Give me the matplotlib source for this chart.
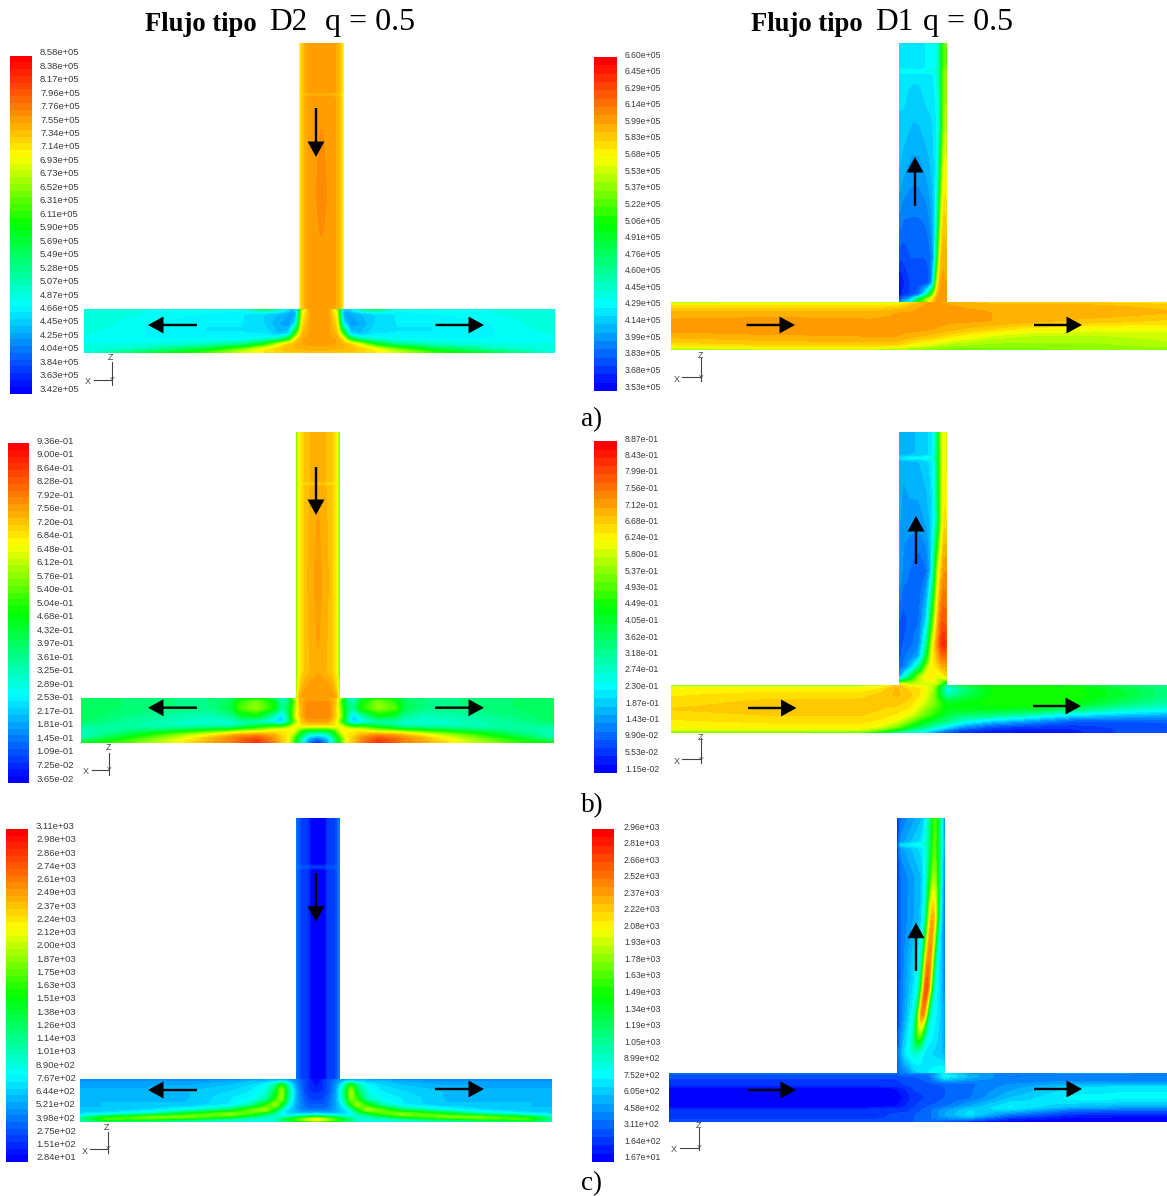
import colorsys
import numpy as np
import matplotlib
matplotlib.use("Agg")
import matplotlib.pyplot as plt

# ---------- colour-scale tick labels ----------
ticks_a_d2 = ["8.58e+05","8.38e+05","8.17e+05","7.96e+05","7.76e+05","7.55e+05","7.34e+05","7.14e+05","6.93e+05","6.73e+05","6.52e+05","6.31e+05","6.11e+05","5.90e+05","5.69e+05","5.49e+05","5.28e+05","5.07e+05","4.87e+05","4.66e+05","4.45e+05","4.25e+05","4.04e+05","3.84e+05","3.63e+05","3.42e+05"]
ticks_a_d1 = ["6.60e+05","6.45e+05","6.29e+05","6.14e+05","5.99e+05","5.83e+05","5.68e+05","5.53e+05","5.37e+05","5.22e+05","5.06e+05","4.91e+05","4.76e+05","4.60e+05","4.45e+05","4.29e+05","4.14e+05","3.99e+05","3.83e+05","3.68e+05","3.53e+05"]
ticks_b_d2 = ["9.36e-01","9.00e-01","8.64e-01","8.28e-01","7.92e-01","7.56e-01","7.20e-01","6.84e-01","6.48e-01","6.12e-01","5.76e-01","5.40e-01","5.04e-01","4.68e-01","4.32e-01","3.97e-01","3.61e-01","3.25e-01","2.89e-01","2.53e-01","2.17e-01","1.81e-01","1.45e-01","1.09e-01","7.25e-02","3.65e-02"]
ticks_b_d1 = ["8.87e-01","8.43e-01","7.99e-01","7.56e-01","7.12e-01","6.68e-01","6.24e-01","5.80e-01","5.37e-01","4.93e-01","4.49e-01","4.05e-01","3.62e-01","3.18e-01","2.74e-01","2.30e-01","1.87e-01","1.43e-01","9.90e-02","5.53e-02","1.15e-02"]
ticks_c_d2 = ["3.11e+03","2.98e+03","2.86e+03","2.74e+03","2.61e+03","2.49e+03","2.37e+03","2.24e+03","2.12e+03","2.00e+03","1.87e+03","1.75e+03","1.63e+03","1.51e+03","1.38e+03","1.26e+03","1.14e+03","1.01e+03","8.90e+02","7.67e+02","6.44e+02","5.21e+02","3.98e+02","2.75e+02","1.51e+02","2.84e+01"]
ticks_c_d1 = ["2.96e+03","2.81e+03","2.66e+03","2.52e+03","2.37e+03","2.22e+03","2.08e+03","1.93e+03","1.78e+03","1.63e+03","1.49e+03","1.34e+03","1.19e+03","1.05e+03","8.99e+02","7.52e+02","6.05e+02","4.58e+02","3.11e+02","1.64e+02","1.67e+01"]

# ---------- fields, on the scale 0 (blue) .. 25 (red) ----------
# a) D2
a_d2_vx = [0,1.5,4,8,14,22.5,31,37,41,43.5,45]
a_d2_vy = [0,50,51.5,53,150,230,266]
a_d2_v = [
 [16,18,19.3,20,20.2,20.4,20.2,20,19.3,18,16],
 [16,18,19.3,20,20.2,20.4,20.2,20,19.3,18,16],
 [16,18,18.5,18.5,18.5,18.5,18.5,18.5,18.5,18,16],
 [16,18,19.3,20,20.2,20.4,20.2,20,19.3,18,16],
 [16,18,19.3,20,20.3,20.8,20.3,20,19.3,18,16],
 [16,18,19.3,20,20.2,20.3,20.2,20,19.3,18,16],
 [16,18,19.3,20,20.1,20.2,20.1,20,19.3,18,16]]
a_d2_hx = [0,60,120,160,180,195,205,212,218,226,235.5]
a_d2_hy = [0,4,15,25,30,35,40,44]
a_d2_h = [
 [7.5,7,7,7.5,11,9,5.5,5.5,16,20,20.2],
 [7.5,7,6.5,6,5.5,5,4.5,4,17,20.1,20.2],
 [7.5,6.5,6,6,5.5,4.5,4,6,18.5,20.1,20.2],
 [7,6.5,6,6,6,5,5.5,14,19.5,20.1,20.2],
 [7,6.5,6.5,6.5,7,8,12,18.5,20,20.1,20.1],
 [7,7,7.5,9,12,17,19.2,19.6,20,20.1,20.1],
 [7,8,11,15,18,19,19.5,19.5,19.5,19.8,19.8],
 [7,11,14,17,18,18.5,18.8,18.8,18.8,18.8,18.8]]
# a) D1
a_d1_vx = [0,4,12,20,28,32,35,37,39,41,43,45,47.5]
a_d1_vy = [0,27,28.5,30,80,130,180,215,240,252,256,259]
a_d1_v = [
 [6.2,6.2,6,6,6.3,6.3,6.5,7,7.5,9,13,15,14],
 [6.2,6.2,6,6,6.3,6.3,6.5,7,7.5,9,13,15,14],
 [6,7.5,8,8,8,8,8,8,8,9.5,13,16,15],
 [6,6,5.8,5.8,6,6,6.3,6.8,7.5,9,13,15.5,15],
 [5.5,5.5,5,5,5.5,5.5,5.8,6,6.5,8,13,16,16],
 [5,4.5,4,4,4.5,5,5.5,6,7,11,16,18,17],
 [3.5,3,3,3,3.2,4,5,6,10,15,18.5,19.5,18.5],
 [2,2,2.5,2.5,2.5,3,4.5,8,14,18.5,20,20,19.5],
 [.3,1,2,2,2,3,7,15,18.5,20,20.3,20,20],
 [.3,1.5,2,3,8,13,16.5,19,20,20.3,20.3,20,20],
 [1.5,3,5,11,16,18,19,20,20.3,20.3,20.3,20.3,20],
 [3,5,6.5,13,16,18,19,20,20.3,20.3,20.3,20.3,20]]
a_d1_hx = [0,100,200,225,240,260,280,320,360,420,495.3]
a_d1_hy = [0,3,10,20,28,35,42,46,48]
a_d1_h = [
 [15,15.5,16,16,18,20.3,19.5,19,19,18.5,18],
 [18,18,18,18,19.5,20.3,20,19.5,19.5,19.5,19],
 [19.5,19.5,19.5,20,20,20.6,20.3,20,20,20,19.5],
 [20.2,20.4,20.2,20.2,20.5,20.3,20.1,20,19.5,19,18.5],
 [20.2,20.4,20.2,20.2,20.2,20,19.5,18.5,17.5,17,17],
 [19.5,19.8,20,20,19.5,19,18,16.5,16,16,16.5],
 [18.5,19,19,19,18,17,16,15.5,15.5,15.5,16],
 [17,17.5,17.5,17,16,15.5,15,15,15,15.2,15.5],
 [15,15,15,15,15,14.5,14.5,14.5,14.5,15,15]]
# b) D2
b_d2_vx = [0,1.5,4,8,14,22,30,36,40,42.5,44]
b_d2_vy = [0,50,51.5,53,150,240,258,266]
b_d2_v = [
 [14,16,18,19,19.5,20,19.5,19,18,16,14],
 [14,16,18,19,19.5,20,19.5,19,18,16,14],
 [14,16,17,17,17,17,17,17,17,16,14],
 [14,16,18,19,19.5,20,19.5,19,18,16,14],
 [14,16,18,19,19.8,20.2,19.8,19,18,16,14],
 [14,16,18,19,19.5,20,19.5,19,18,16,14],
 [14,17,19,20,20.5,20.5,20.5,20,19,17,14],
 [13,19,20,20.5,20.5,20.5,20.5,20.5,20,19,13]]
b_d2_hx = [0,40,90,130,150,158,175,192,200,206,212,218,226,236]
b_d2_hy = [0,3,10,18,24,28,32,36,40,44.7]
b_d2_h = [
 [10.5,10,9.5,9.5,10,11,12,10,7,8,15,19,20,20],
 [10.5,10,9.5,9.5,10.5,13,15,12,8,9,13,19.5,20.5,20.5],
 [10.5,10,9.5,9.5,11,14,15.5,13,9,10,14,19,21,20.5],
 [10.5,9.5,8.5,8,9,11,12,8,5,9,15,19,21,21],
 [10,9,8,7.5,7.5,8,8,6,5,8,13,18,20,20],
 [9,8.5,8,8,8,9,11,13,12,14,17,18,18,18],
 [8,9,10,12,13,14,15,17,18,18,18,14,12,12],
 [8,10,14,17,19,19.5,20,19.5,18,18,16,12,8,7],
 [8,12,16,19.5,21,21.5,22.5,20.5,19,18,14,10,5,3.5],
 [12,14,17,20,21,22,23.5,21,19,18,14,9,4,.5]]
# b) D1
b_d1_vx = [0,4,12,20,28,33,36,39,42,45,47.5]
b_d1_vy = [0,24,26,28,90,140,190,212,225,235,245,253]
b_d1_v = [
 [5,4.5,5,5,5.5,6,7,11,16,18,16],
 [5,4.5,5,5,5.5,6,7,11,16,18,16],
 [6,7,7.5,7.5,7.5,8,9,12,16,18,16],
 [5,4.5,5,5,5.5,6,7,11,16,18,16],
 [4.5,4,4,4,4.5,5.5,7,10,16,19,18],
 [4.5,3.5,3,2.5,3,6,12,17,19,21,20.5],
 [2.5,2,3,3,6,13,17,20,22,23,21],
 [2,2.5,3,3.5,9,17,19,21,23,24.5,22],
 [2,3,3.5,4.5,12,18,18.5,20,21,22,21],
 [3,3,5,9,16,18,18,18.5,19.5,20,20],
 [4,6,11,16,18,18,17.5,16,17,18,18.5],
 [19,18,17,16.5,16.5,16.5,16.5,16,14,10,9]]
b_d1_hx = [0,100,190,208,225,238,250,262,275,290,320,360,400,450,495.3]
b_d1_hy = [0,3,10,18,24,30,36,42,46,48]
b_d1_h = [
 [15,15,15.5,16,19,17,17,16,9,11,12.5,12.5,11,10,9],
 [17.5,17.5,17.5,18,19.5,18.5,18,16,6.5,9,12.5,13,13,11,9.5],
 [18,18.5,18.5,19,19.5,19,18,15,8,10,12.5,13,13,11.5,9.5],
 [18.5,19,19,19,19,18.5,17,15,12,12,13,13,12.5,10,8.5],
 [18.8,19,19,18.8,18.5,18,16,14,12,12,12,11.5,10,8,7],
 [18.5,18.8,18.8,18.5,18,17,15,13,11,10,9.5,8,6,5,4.5],
 [18,18.3,18.3,18,17,15,12.5,11,9.5,7.5,5.5,4,2.5,2.5,2.5],
 [17.5,17.8,17.8,17,15,12,10,8,6,4,2,1.5,1.5,2,2.5],
 [16.5,16.5,16,14,11,8,7,5,3,1.5,1,.5,1,2,2.5],
 [14,14,13,11,8,6.5,6,4,2.5,1.5,.5,.5,1,2,2]]
# c) D2
c_d2_vx = [0,2,6,13,14,29.6,30.6,37.6,41.6,43.6]
c_d2_vy = [0,47.5,49,50.5,261]
c_d2_v = [
 [3.5,2.5,1.6,1.6,.1,.1,1.6,1.6,2.5,3.5],
 [3.5,2.5,1.6,1.6,.1,.1,1.6,1.6,2.5,3.5],
 [3.5,3,3,3,3,3,3,3,3,3.5],
 [3.5,2.5,1.6,1.6,.1,.1,1.6,1.6,2.5,3.5],
 [3.5,2.5,1.6,1.6,.1,.1,1.6,1.6,2.5,3.5]]
c_d2_hx = [0,25,70,110,150,170,185,195,201,207,215,222,228,235.6]
c_d2_hy = [0,2,6,12,20,26,31,35,38,40.5,42,43]
c_d2_h = [
 [3,3,3,3,3,3.5,4,4,4,3.5,3.5,2,1.5,.1],
 [4,4,4,4,4.5,5,5,5,5,5,3.5,2.5,1.5,.1],
 [4.5,4.5,4.5,4.5,5,5.5,6.5,9,14,8,4,2.5,1.5,.7],
 [4.5,4.5,4.5,5,5.5,6,7,11,16.5,10,4.5,2.5,1.5,1.3],
 [5,5,5,5,6,6.5,8,13,16,9,4.5,3,2,1.8],
 [5,5,5,5,6,8,13,16.5,12,7,4.5,3.2,2.5,2.5],
 [5,5,5.5,7,10,15,16.5,11,7,5.5,4.5,3.5,3.2,3.2],
 [5.5,6,8,13,16.5,14,10,8,6.5,5.5,5,5,5,5.5],
 [8,12,16.5,16,12,9,8,7,7,7.5,9,10,11,12],
 [10,16,13,10,8,7,7,8,11,13,16,18,19.5,21.5],
 [8,10,9,8,7,7,7,7.5,10,11,13,15,16,17],
 [6,6.5,6.5,6.5,6.5,6.5,6.5,6.5,7,7,7.5,8,8,9]]
# c) D1: the hot streak leans across the branch, so its centre is read per row
c_d1_vy = [0,25,27,29,60,100,140,170,197,220,235,255]
c_d1_centre = [38,37.5,37.5,37.5,37,35.5,32,29.5,25.5,22,20,20]
c_d1_voff = [None,None,-12,-7,-3.5,0,3.5,7,None,None]
c_d1_vwall = [0,3,None,None,None,None,None,None,45.5,48]
c_d1_v = [
 [.5,3,5,7.5,11,15,11,7.5,4.5,3],
 [.5,4,6,8,11,15,11,7.5,5,4],
 [.5,7,7.5,8,11,15,11,8,7.5,4],
 [.5,4,6,8,11,15,11,7.5,5,4],
 [.5,3,5,8,13,16.5,13,7.5,4.5,3],
 [.5,3,5,8,17,21,17,7.5,4.5,3],
 [.5,3,6,8,18,22,18,7.5,4.5,3],
 [.5,3,6,8,18.5,24,18.5,7.5,4.5,3],
 [.5,3,6,8,17,22.5,17,7.5,5,3.5],
 [1.5,3.5,6,7,11,15,11,7,5,3.5],
 [2,4,6,7,7.5,7.5,7,6,5,4],
 [2.5,3,3.5,4,5,5.5,5.5,6,7,6.5]]
c_d1_hx = [0,60,200,225,238,244,260,275,300,340,400,450,497.2]
c_d1_hy = [0,3,10,13,14.5,25,34,36,42,46,48.7]
c_d1_h = [
 [3,3,3,3,3.5,3.5,3.5,6,4,3.5,4,4,3.5],
 [2,2,2,2,2.5,2.5,3,7,5,3,3,3,3],
 [1.6,1.6,1.6,1.6,2,2,2.5,3,3,3.5,4,4,4],
 [1.6,1.6,1.6,1.6,2,2,2,2.5,3,4,5,5.5,5.5],
 [.1,.1,.1,.5,1.5,2,2,2.5,3,4,5.5,6,6],
 [.1,.1,.1,.1,.9,1.6,2,2.5,3,5,6.5,6.5,6.5],
 [.1,.1,.1,.5,1.5,1.8,2.5,3,4.5,6.5,5,4.5,4.5],
 [1.6,1.6,1.6,1.6,1.7,2,3,4,5.5,6,3.5,3,3],
 [1.6,1.6,1.6,2,2,2.5,3,4.5,6,3,1.2,1,1],
 [1.6,1.6,1.6,2,2,2.5,3,3.5,3.5,1,.2,.2,.2],
 [2.5,2.5,2.5,2.5,2.5,2.5,2.5,2,1,.2,.2,.2,.2]]

# ---------- drawing ----------
W, H = 1167, 1196
fig = plt.figure(figsize=(W/100, H/100), dpi=100, facecolor="white")
ax = fig.add_axes([0, 0, 1, 1])
ax.set_xlim(0, W); ax.set_ylim(H, 0); ax.axis("off")
SANS = "Liberation Sans"; SERIF = "Liberation Serif"


def band_colors(n):
    t = (np.arange(n)+.5)/n*25
    hue = np.interp(t, [.3, 6.5, 12.5, 17.5, 24.7], [240, 180, 120, 60, 0])
    return [colorsys.hsv_to_rgb(h/360, 1, 1) for h in hue]


def smooth(z, sigma=1.2):
    r = int(3*sigma)
    k = np.exp(-.5*(np.arange(-r, r+1)/sigma)**2); k /= k.sum()
    z = np.pad(z, r, mode="edge")
    z = np.apply_along_axis(lambda a: np.convolve(a, k, "same"), 0, z)
    z = np.apply_along_axis(lambda a: np.convolve(a, k, "same"), 1, z)
    return z[r:-r, r:-r]


def field(x0, y0, xs, ys, z, n):
    xs = np.asarray(xs, float); ys = np.asarray(ys, float); z = np.asarray(z, float)
    if xs.ndim == 1:
        xs = np.repeat(xs[None, :], len(ys), axis=0)
    fy = np.linspace(ys[0], ys[-1], int(round(ys[-1]-ys[0]))+1)
    fx = np.linspace(xs[0, 0], xs[0, -1], int(round(xs[0, -1]-xs[0, 0]))+1)
    zf = np.empty((len(fy), len(fx)))
    for i, y in enumerate(fy):
        xrow = [np.interp(y, ys, xs[:, j]) for j in range(xs.shape[1])]
        zrow = [np.interp(y, ys, z[:, j]) for j in range(xs.shape[1])]
        zf[i] = np.interp(fx, xrow, zrow)
    zf = np.clip(smooth(zf), .01, 24.99)
    ax.contourf(x0+fx, y0+fy, zf, levels=np.linspace(0, 25, n+1), colors=band_colors(n))


def mirrored(xs, z, width):
    xs = list(xs); z = np.asarray(z, float)
    return (np.array(xs + [width-v for v in xs[-2::-1]]),
            np.hstack([z, z[:, -2::-1]]))


def colorbar(x0, x1, y0, y1, labels, n, lx, ltop, lbot, fs):
    edges = np.linspace(y1, y0, n+1)
    ax.pcolormesh([x0, x1], edges, np.arange(n)[:, None], cmap=matplotlib.colors.ListedColormap(band_colors(n)),
                  vmin=-.5, vmax=n-.5, shading="flat")
    for lab, y in zip(labels, np.linspace(ltop, lbot, len(labels))):
        ax.text(lx, y, lab, fontsize=fs, family=SANS, color="#3a3a3a", va="center", ha="left")


def arrow(x0, y0, x1, y1):
    ax.arrow(x0, y0, x1-x0, y1-y0, width=2.4, head_width=17, head_length=15.5,
             length_includes_head=True, fc="black", ec="none", zorder=5)


def triad(xv, ytop, ybot, xl, yh, xX, yX, xZ, yZ):
    c = "#444444"
    ax.plot([xv, xv], [ytop, ybot], color=c, lw=.8)
    ax.plot([xl, xv], [yh, yh], color=c, lw=.8)
    ax.text(xX, yX, "X", fontsize=6.5, family=SANS, color=c, ha="center", va="center")
    ax.text(xZ, yZ, "Z", fontsize=6.5, family=SANS, color=c, ha="center", va="center")
    ax.text(xv, yh+1, "Y", fontsize=5, family=SANS, color=c, ha="center", va="center")


N_D2, N_D1 = 50, 40
FS_D2, FS_D1 = 6.8, 6.25

# a) D2
hx, hz = mirrored(a_d2_hx, a_d2_h, 471)
field(84, 309, hx, a_d2_hy, hz, N_D2)
field(299, 43, a_d2_vx, a_d2_vy, a_d2_v, N_D2)
colorbar(10.4, 31.5, 55.5, 393.5, ticks_a_d2, N_D2, 40, 52.7, 389.3, FS_D2)
arrow(316, 108, 316, 157); arrow(197, 325, 148, 325); arrow(435.5, 325, 484, 325)
triad(112, 362, 385, 94, 380, 88, 381, 111, 358)
# a) D1
field(671.7, 302, a_d1_hx, a_d1_hy, a_d1_h, N_D1)
field(899, 43, a_d1_vx, a_d1_vy, a_d1_v, N_D1)
colorbar(593.5, 616.5, 57, 391, ticks_a_d1, N_D1, 625, 55, 387, FS_D1)
arrow(915, 206, 915, 157); arrow(746.5, 325, 795, 325); arrow(1034, 325, 1082, 325)
triad(701, 358, 381, 682, 377, 676.5, 379, 700, 355)
# b) D2
hx, hz = mirrored(b_d2_hx, b_d2_h, 472)
field(81.5, 698, hx, b_d2_hy, hz, N_D2)
field(296, 432, b_d2_vx, b_d2_vy, b_d2_v, N_D2)
colorbar(7.5, 28.5, 443, 783, ticks_b_d2, N_D2, 36.7, 441, 779, FS_D2)
arrow(316, 467, 316, 515); arrow(197, 707.7, 148, 707.7); arrow(435, 707.7, 484, 707.7)
triad(109, 753, 775, 91.5, 769.7, 86, 771, 108, 748)
# b) D1
field(671.7, 685, b_d1_hx, b_d1_hy, b_d1_h, N_D1)
field(899, 432, b_d1_vx, b_d1_vy, b_d1_v, N_D1)
colorbar(593.5, 616.5, 441.3, 773, ticks_b_d1, N_D1, 625, 439, 769, FS_D1)
arrow(916, 564, 916, 516); arrow(748, 708, 796.5, 708); arrow(1033, 706, 1081, 706)
triad(701, 738, 762.7, 682, 759, 676.5, 761, 700, 737)
# c) D2
hx, hz = mirrored(c_d2_hx, c_d2_h, 471.2)
field(80.7, 1079, hx, c_d2_hy, hz, N_D2)
field(296, 818, c_d2_vx, c_d2_vy, c_d2_v, N_D2)
colorbar(6.3, 27.8, 829, 1162, ticks_c_d2, N_D2, 36, 826.7, 1158, FS_D2)
arrow(316, 873, 316, 921.7); arrow(197, 1090, 148, 1090); arrow(435, 1089, 484, 1089)
triad(108, 1132, 1153, 90.4, 1148.7, 85, 1151, 107, 1128)
# c) D1
field(669.8, 1073, c_d1_hx, c_d1_hy, c_d1_h, N_D1)
vx2d = np.array([[w if w is not None else c+o for w, o in zip(c_d1_vwall, c_d1_voff)] for c in c_d1_centre], float)
field(897, 818, vx2d, c_d1_vy, c_d1_v, N_D1)
colorbar(591.7, 614, 829, 1162, ticks_c_d1, N_D1, 624, 827, 1158, FS_D1)
arrow(916, 971, 916, 922.7); arrow(748, 1090, 796, 1090); arrow(1034, 1089, 1082, 1089)
triad(699, 1128, 1150, 680, 1148, 674, 1150, 698, 1126)

# titles and panel letters
for xb, xd, xq, label in [(145, 269, 325, "D2"), (751, 875, 923, "D1")]:
    ax.text(xb, 31, "Flujo tipo", family=SERIF, weight="bold", fontsize=19.2, color="black", va="baseline")
    ax.text(xd, 30, label, family=SERIF, fontsize=22.5, color="black", va="baseline")
    ax.text(xq, 30, "q = 0.5", family=SERIF, fontsize=23, color="black", va="baseline")
for y, s in [(426, "a)"), (812, "b)"), (1190, "c)")]:
    ax.text(581, y, s, family=SERIF, fontsize=19.5, color="black", va="baseline")

fig.savefig("out.png", dpi=100)
